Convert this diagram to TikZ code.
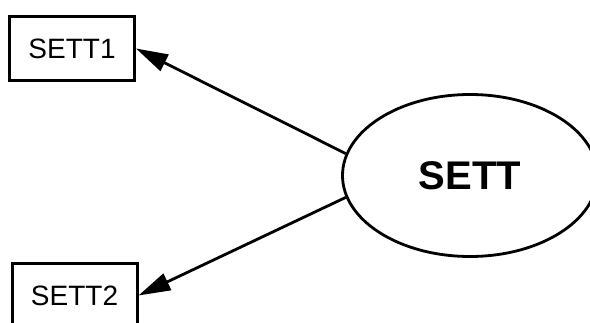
\documentclass[tikz,border=0pt]{standalone}
\usepackage{fontspec}
\setmainfont{Liberation Sans}
\usetikzlibrary{arrows.meta,shapes.geometric}

\begin{document}
\begin{tikzpicture}[x=1pt,y=1pt,
    leaf/.style={draw,line width=3pt,inner sep=0pt,minimum width=125pt,minimum height=64pt,font=\fontsize{28}{30}\selectfont},
    root/.style={draw,ellipse,line width=2.8pt,inner sep=0pt,minimum width=255pt,minimum height=162pt,font=\fontsize{40}{44}\selectfont\bfseries},
    link/.style={line width=2.8pt,-{Triangle[length=32pt,width=18pt]}}]
  \useasboundingbox (0,0) rectangle (590,322);
  \path[clip] (0,0) rectangle (590,322);

  \node[leaf] (sett1) at (72,273.5) {SETT1};
  \node[leaf] (sett2) at (74.5,26.5) {SETT2};
  \node[root] (sett) at (470,146.5) {SETT};

  \draw[link] (sett.170) -- (sett1.east);
  \draw[link] (sett.190) -- (sett2.east);
\end{tikzpicture}
\end{document}
